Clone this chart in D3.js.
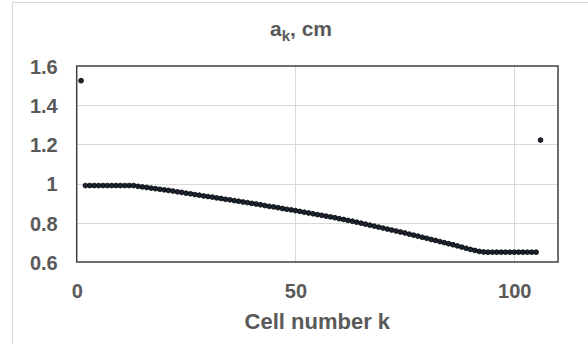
<!DOCTYPE html>
<html>
<head>
<meta charset="utf-8">
<script src="https://cdn.jsdelivr.net/npm/d3@7"></script>
<style>
  html, body { margin: 0; padding: 0; background: #fff; }
  svg { display: block; font-family: "Liberation Sans", Arial, sans-serif; }
</style>
</head>
<body>
<svg id="chart" width="588" height="344"></svg>
<script>
// Cell numbers k and the corresponding aperture radius a_k (cm)
const cellNumbers = [
  1, 2, 3, 4, 5, 6, 7, 8, 9, 10,
  11, 12, 13, 14, 15, 16, 17, 18, 19, 20,
  21, 22, 23, 24, 25, 26, 27, 28, 29, 30,
  31, 32, 33, 34, 35, 36, 37, 38, 39, 40,
  41, 42, 43, 44, 45, 46, 47, 48, 49, 50,
  51, 52, 53, 54, 55, 56, 57, 58, 59, 60,
  61, 62, 63, 64, 65, 66, 67, 68, 69, 70,
  71, 72, 73, 74, 75, 76, 77, 78, 79, 80,
  81, 82, 83, 84, 85, 86, 87, 88, 89, 90,
  91, 92, 93, 94, 95, 96, 97, 98, 99, 100,
  101, 102, 103, 104, 105, 106
];
const apertureCm = [
  1.525, 0.990, 0.990, 0.990, 0.990, 0.990, 0.990, 0.990, 0.990, 0.990,
  0.990, 0.990, 0.990, 0.986, 0.983, 0.980, 0.977, 0.974, 0.971, 0.968,
  0.965, 0.962, 0.958, 0.955, 0.951, 0.948, 0.944, 0.941, 0.937, 0.934,
  0.931, 0.927, 0.924, 0.920, 0.917, 0.913, 0.910, 0.906, 0.903, 0.899,
  0.896, 0.892, 0.888, 0.884, 0.881, 0.877, 0.873, 0.869, 0.866, 0.862,
  0.858, 0.854, 0.850, 0.846, 0.842, 0.838, 0.834, 0.830, 0.826, 0.821,
  0.817, 0.812, 0.808, 0.803, 0.798, 0.793, 0.788, 0.783, 0.778, 0.773,
  0.768, 0.763, 0.758, 0.753, 0.748, 0.742, 0.737, 0.732, 0.726, 0.721,
  0.715, 0.710, 0.704, 0.699, 0.693, 0.688, 0.682, 0.676, 0.670, 0.664,
  0.659, 0.654, 0.651, 0.650, 0.650, 0.650, 0.650, 0.650, 0.650, 0.650,
  0.650, 0.650, 0.650, 0.650, 0.650, 1.222
];
const xTicks = [0, 50, 100];
const yTicks = [0.6, 0.8, 1, 1.2, 1.4, 1.6];
const xDomain = [0, 110];
const yDomain = [0.6, 1.6];

const svg = d3.select("#chart");
const plot = { left: 76.7, right: 558, top: 66, bottom: 262 };
const textColor = "#595959";

const x = d3.scaleLinear().domain(xDomain).range([plot.left, plot.right]);
const y = d3.scaleLinear().domain(yDomain).range([plot.bottom, plot.top]);

// chart area frame
svg.append("rect")
  .attr("x", 12.5).attr("y", 2.5)
  .attr("width", 600).attr("height", 360)
  .attr("fill", "#fff").attr("stroke", "#d9d9d9").attr("stroke-width", 1);

// gridlines
svg.append("g")
  .selectAll("line.h")
  .data(yTicks.filter(d => d > yDomain[0] && d < yDomain[1]))
  .join("line")
  .attr("x1", plot.left).attr("x2", plot.right)
  .attr("y1", d => Math.round(y(d)) + 0.5).attr("y2", d => Math.round(y(d)) + 0.5)
  .attr("stroke", "#d9d9d9").attr("stroke-width", 1);

svg.append("g")
  .selectAll("line.v")
  .data(xTicks.filter(d => d > xDomain[0] && d < xDomain[1]))
  .join("line")
  .attr("x1", d => Math.round(x(d)) + 0.5).attr("x2", d => Math.round(x(d)) + 0.5)
  .attr("y1", plot.top).attr("y2", plot.bottom)
  .attr("stroke", "#d9d9d9").attr("stroke-width", 1);

// plot border
svg.append("rect")
  .attr("x", plot.left).attr("y", plot.top)
  .attr("width", plot.right - plot.left).attr("height", plot.bottom - plot.top)
  .attr("fill", "none").attr("stroke", "#404040").attr("stroke-width", 1.5);

// axes (labels only)
const xAxis = d3.axisBottom(x).tickValues(xTicks).tickSize(0).tickPadding(0).tickFormat(d3.format("d"));
const gx = svg.append("g").attr("transform", `translate(0,${plot.bottom})`).call(xAxis);
gx.select(".domain").remove();
gx.selectAll("text")
  .attr("dy", null).attr("y", 36)
  .attr("fill", textColor)
  .style("font-size", "20px").style("font-weight", "bold")
  .style("font-family", "'Liberation Sans', Arial, sans-serif");

const yAxis = d3.axisLeft(y).tickValues(yTicks).tickSize(0).tickPadding(19).tickFormat(d3.format(""));
const gy = svg.append("g").attr("transform", `translate(${plot.left},0)`).call(yAxis);
gy.select(".domain").remove();
gy.selectAll("text")
  .attr("dy", "0.36em")
  .attr("fill", textColor)
  .style("font-size", "20px").style("font-weight", "bold")
  .style("font-family", "'Liberation Sans', Arial, sans-serif");

// points
svg.append("g")
  .selectAll("circle")
  .data(cellNumbers.map((k, i) => ({ k, a: apertureCm[i] })))
  .join("circle")
  .attr("cx", d => x(d.k))
  .attr("cy", d => y(d.a))
  .attr("r", 2.4)
  .attr("fill", "#1c2333")
  .attr("stroke", "#000")
  .attr("stroke-width", 0.8);

// title
const title = svg.append("text")
  .attr("x", 301).attr("y", 36)
  .attr("text-anchor", "middle")
  .attr("fill", textColor)
  .style("font-size", "21px").style("font-weight", "bold");
title.append("tspan").text("a");
title.append("tspan").attr("dy", 5).style("font-size", "15px").text("k");
title.append("tspan").attr("dy", -5).text(", cm");

// x-axis title
svg.append("text")
  .attr("x", (plot.left + plot.right) / 2).attr("y", 329)
  .attr("text-anchor", "middle")
  .attr("fill", textColor)
  .style("font-size", "22px").style("font-weight", "bold")
  .text("Cell number k");
</script>
</body>
</html>
